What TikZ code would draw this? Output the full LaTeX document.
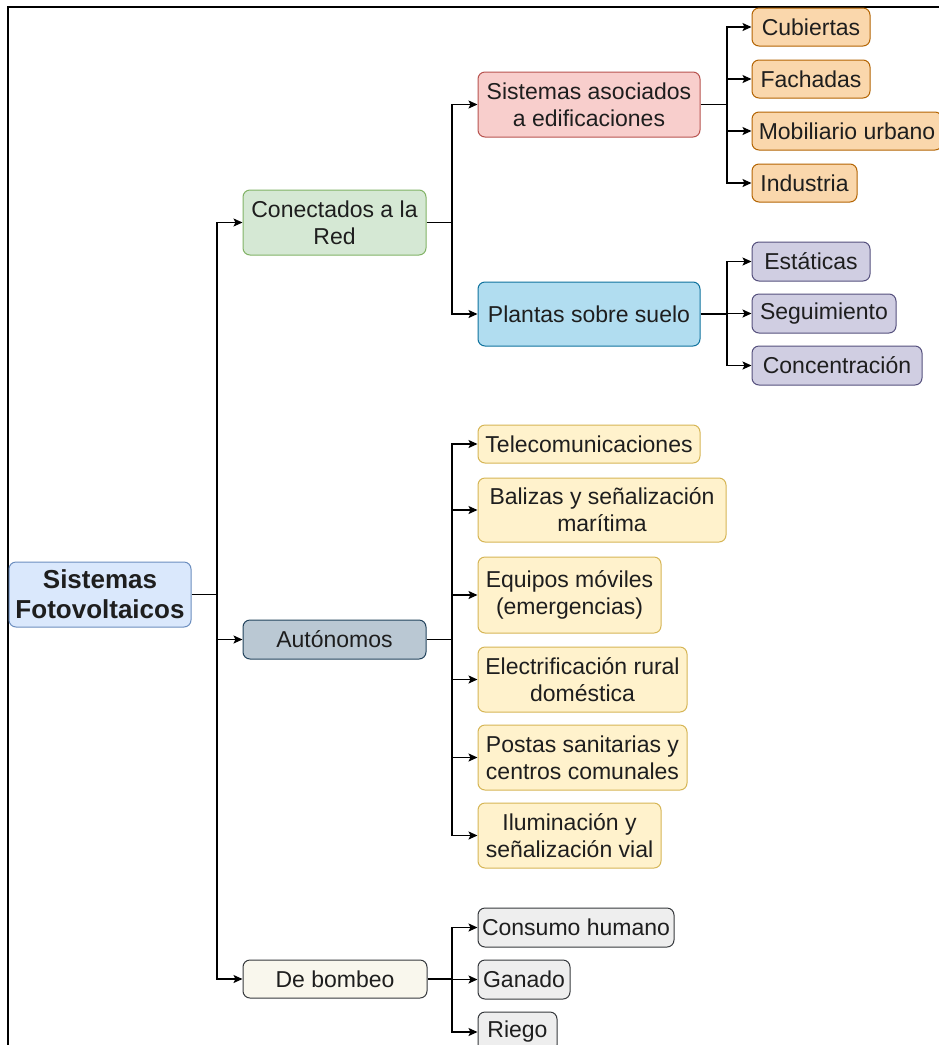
\documentclass[tikz,border=0pt]{standalone}
\usepackage{fontspec}
\setmainfont{Liberation Sans}
\usetikzlibrary{arrows.meta}
\definecolor{txt}{HTML}{1E1E1E}
\tikzset{
  box/.style={draw, line width=1pt, rounded corners=7pt, align=center, inner sep=0pt,
    text=txt, font=\fontsize{23}{27}\selectfont},
  rootbox/.style={box, fill=rootf, draw=roots, font=\bfseries\fontsize{26}{30}\selectfont},
  greenbox/.style={box, fill=greenf, draw=greens},
  slatebox/.style={box, fill=slatef, draw=slates},
  creambox/.style={box, fill=creamf, draw=creams},
  pinkbox/.style={box, fill=pinkf, draw=pinks},
  bluebox/.style={box, fill=bluef, draw=blues},
  orangebox/.style={box, fill=orangef, draw=oranges},
  purplebox/.style={box, fill=purplef, draw=purples},
  yellowbox/.style={box, fill=yellowf, draw=yellows},
  greybox/.style={box, fill=greyf, draw=greys},
  link/.style={line width=1.4pt, draw=black},
  arr/.style={link, -{Stealth[length=9pt,width=8pt,inset=2pt]}},
}
\definecolor{rootf}{HTML}{DAE8FC}\definecolor{roots}{HTML}{6C8EBF}
\definecolor{greenf}{HTML}{D5E8D4}\definecolor{greens}{HTML}{82B366}
\definecolor{slatef}{HTML}{BAC8D3}\definecolor{slates}{HTML}{23445D}
\definecolor{creamf}{HTML}{F9F7ED}\definecolor{creams}{HTML}{36393D}
\definecolor{pinkf}{HTML}{F8CECC}\definecolor{pinks}{HTML}{B85450}
\definecolor{bluef}{HTML}{B1DDF0}\definecolor{blues}{HTML}{10739E}
\definecolor{orangef}{HTML}{FAD7AC}\definecolor{oranges}{HTML}{B46504}
\definecolor{purplef}{HTML}{D0CEE2}\definecolor{purples}{HTML}{56517E}
\definecolor{yellowf}{HTML}{FFF2CC}\definecolor{yellows}{HTML}{D6B656}
\definecolor{greyf}{HTML}{EEEEEE}\definecolor{greys}{HTML}{36393D}
\begin{document}
\begin{tikzpicture}[x=1pt,y=-1pt]
\useasboundingbox (0,0) rectangle (939,1045);
\clip (0,0) rectangle (939,1045);
\fill[white] (0,0) rectangle (939,1045);
% frame
\draw[line width=1.5pt] (8,1046) -- (8,7) -- (940,7);

% level 0
\node[rootbox, minimum width=182pt, minimum height=65pt] (root) at (100,594.5) {Sistemas\\Fotovoltaicos};
% level 1
\node[greenbox, minimum width=183pt, minimum height=65pt] (con) at (334.5,222.5) {Conectados a la\\Red};
\node[slatebox, minimum width=183pt, minimum height=39pt] (aut) at (334.5,639.5) {Autónomos};
\node[creambox, minimum width=184pt, minimum height=38pt] (bom) at (335,979) {De bombeo};
% level 2 (red)
\node[pinkbox, minimum width=222pt, minimum height=65pt] (edi) at (589,104.5) {Sistemas asociados\\a edificaciones};
\node[bluebox, minimum width=222pt, minimum height=64pt] (pla) at (589,314) {Plantas sobre suelo};
% level 3 (edificaciones)
\node[orangebox, minimum width=118pt, minimum height=38pt] (cub) at (811,27) {Cubiertas};
\node[orangebox, minimum width=118pt, minimum height=38pt] (fac) at (811,79) {Fachadas};
\node[orangebox, minimum width=190pt, minimum height=38pt] (mob) at (847,131) {Mobiliario urbano};
\node[orangebox, minimum width=105pt, minimum height=38pt] (ind) at (804.5,183) {Industria};
% level 3 (plantas)
\node[purplebox, minimum width=118pt, minimum height=39pt] (est) at (811,261.5) {Estáticas};
\node[purplebox, minimum width=144pt, minimum height=39pt] (seg) at (824,313.5) {Seguimiento};
\node[purplebox, minimum width=170pt, minimum height=39pt] (cnc) at (837,365.5) {Concentración};
% autonomos children
\node[yellowbox, minimum width=222pt, minimum height=38pt] (tel) at (589,444) {Telecomunicaciones};
\node[yellowbox, minimum width=248pt, minimum height=64pt] (bal) at (602,510) {Balizas y señalización\\marítima};
\node[yellowbox, minimum width=183pt, minimum height=76pt] (equ) at (569.5,595) {Equipos móviles\\(emergencias)};
\node[yellowbox, minimum width=209pt, minimum height=65pt] (ele) at (582.5,679.5) {Electrificación rural\\doméstica};
\node[yellowbox, minimum width=209pt, minimum height=65pt] (pos) at (582.5,757.5) {Postas sanitarias y\\centros comunales};
\node[yellowbox, minimum width=183pt, minimum height=65pt] (ilu) at (569.5,835.5) {Iluminación y\\señalización vial};
% bombeo children
\node[greybox, minimum width=196pt, minimum height=39pt] (hum) at (576,927.5) {Consumo humano};
\node[greybox, minimum width=92pt, minimum height=39pt] (gan) at (524,979.5) {Ganado};
\node[greybox, minimum width=79pt, minimum height=40pt] (rie) at (517.5,1032) {Riego};

% junction coordinates
\coordinate (j0) at (217,594.5);
\coordinate (j1) at (452,222.5);
\coordinate (j2) at (727,104.5);
\coordinate (j3) at (727,314);
\coordinate (j4) at (452,639.5);
\coordinate (j5) at (452,979);

% connectors
\draw[link] (root.east) -- (j0);
\draw[arr] (j0) |- (con.west);
\draw[arr] (j0) |- (aut.west);
\draw[arr] (j0) |- (bom.west);

\draw[link] (con.east) -- (j1);
\draw[arr] (j1) |- (edi.west);
\draw[arr] (j1) |- (pla.west);

\draw[link] (edi.east) -- (j2);
\draw[arr] (j2) |- (cub.west);
\draw[arr] (j2) |- (fac.west);
\draw[arr] (j2) |- (mob.west);
\draw[arr] (j2) |- (ind.west);

\draw[link] (pla.east) -- (j3);
\draw[arr] (j3) |- (est.west);
\draw[arr] (j3) |- (seg.west);
\draw[arr] (j3) |- (cnc.west);

\draw[link] (aut.east) -- (j4);
\draw[arr] (j4) |- (tel.west);
\draw[arr] (j4) |- (bal.west);
\draw[arr] (j4) |- (equ.west);
\draw[arr] (j4) |- (ele.west);
\draw[arr] (j4) |- (pos.west);
\draw[arr] (j4) |- (ilu.west);

\draw[link] (bom.east) -- (j5);
\draw[arr] (j5) |- (hum.west);
\draw[arr] (j5) |- (gan.west);
\draw[arr] (j5) |- (rie.west);
\end{tikzpicture}
\end{document}
